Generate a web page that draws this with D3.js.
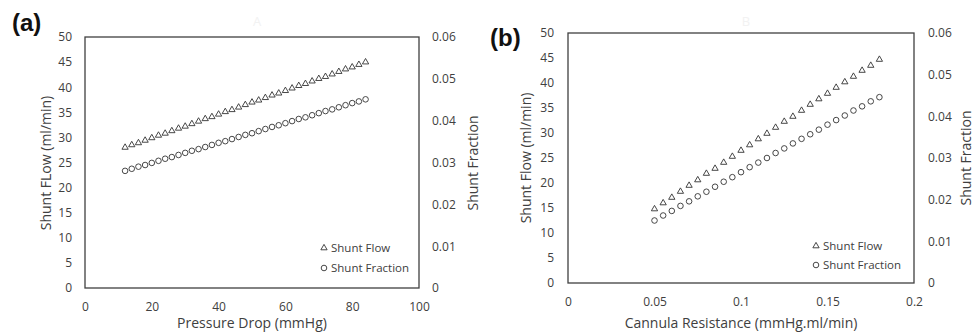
<!DOCTYPE html>
<html>
<head>
<meta charset="utf-8">
<script src="https://cdn.jsdelivr.net/npm/d3@7"></script>
<style>
  body { margin: 0; background: #fff; }
  svg { display: block; font-family: "Open Sans", sans-serif; }
  .tick text { fill: #404040; font-size: 12px; }
  .title { fill: #404040; font-size: 14px; }
  .legend { fill: #404040; font-size: 11.5px; }
  .panel-tag { font-family: "Liberation Sans", Arial, sans-serif; font-weight: bold; font-size: 24px; fill: #111; }
</style>
</head>
<body>
<svg id="chart" width="976" height="335"></svg>
<script>
var width = 976,
    height = 335;

// panel (a): pressure drop sweep
var pressureDrop = d3.range(12, 85, 2);
var flowA = [28.0, 28.5, 28.9, 29.4, 29.9, 30.4, 30.8, 31.3, 31.8, 32.2, 32.7, 33.2, 33.7,
  34.1, 34.6, 35.1, 35.5, 36.0, 36.5, 37.0, 37.4, 37.9, 38.4, 38.8, 39.3, 39.8, 40.3,
  40.7, 41.2, 41.7, 42.1, 42.6, 43.1, 43.6, 44.0, 44.5, 45.0];
var fractionA = [0.0280, 0.0285, 0.0290, 0.0294, 0.0299, 0.0304, 0.0309, 0.0313, 0.0318,
  0.0323, 0.0328, 0.0332, 0.0337, 0.0342, 0.0347, 0.0351, 0.0356, 0.0361, 0.0366, 0.0370,
  0.0375, 0.0380, 0.0385, 0.0389, 0.0394, 0.0399, 0.0404, 0.0408, 0.0413, 0.0418, 0.0423,
  0.0427, 0.0432, 0.0437, 0.0442, 0.0446, 0.0451];

// panel (b): cannula resistance sweep
var resistance = [0.05, 0.055, 0.06, 0.065, 0.07, 0.075, 0.08, 0.085, 0.09, 0.095, 0.1,
  0.105, 0.11, 0.115, 0.12, 0.125, 0.13, 0.135, 0.14, 0.145, 0.15, 0.155, 0.16, 0.165,
  0.17, 0.175, 0.18];
var flowB = [14.8, 16.0, 17.1, 18.3, 19.5, 20.6, 21.9, 22.9, 24.1, 25.3, 26.5, 27.6, 28.8,
  29.9, 31.1, 32.3, 33.3, 34.5, 35.7, 36.8, 37.9, 39.1, 40.2, 41.3, 42.5, 43.5, 44.7];
var fractionB = [0.0150, 0.0162, 0.0173, 0.0185, 0.0196, 0.0208, 0.0219, 0.0231, 0.0243,
  0.0254, 0.0266, 0.0278, 0.0289, 0.0300, 0.0312, 0.0323, 0.0335, 0.0346, 0.0357, 0.0368,
  0.0380, 0.0391, 0.0402, 0.0414, 0.0424, 0.0436, 0.0446];

var xTicksA = [0, 20, 40, 60, 80, 100];
var xTicksB = [0, 0.05, 0.1, 0.15, 0.2];
var flowTicks = d3.range(0, 51, 5);
var fractionTicks = [0, 0.01, 0.02, 0.03, 0.04, 0.05, 0.06];
var legendLabels = ["Shunt Flow", "Shunt Fraction"];

var svg = d3.select("#chart");

var triangle = d3.symbol().type(d3.symbolTriangle).size(17);

function drawPanel(p) {
  var x = d3.scaleLinear().domain(p.xDomain).range([p.left, p.right]);
  var yL = d3.scaleLinear().domain([0, 50]).range([p.bottom, p.top]);
  var yR = d3.scaleLinear().domain([0, 0.06]).range([p.bottom, p.top]);

  var g = svg.append("g");

  g.append("text").attr("class", "panel-tag")
    .attr("x", p.tagX).attr("y", p.tagY).text(p.tag);

  // faint watermark letter above the plot
  g.append("text").attr("x", p.markX).attr("y", p.markY)
    .attr("text-anchor", "middle").style("font-size", "13px").style("fill", "#f2f2f2")
    .text(p.mark);

  g.append("rect")
    .attr("x", p.left).attr("y", p.top)
    .attr("width", p.right - p.left).attr("height", p.bottom - p.top)
    .attr("fill", "none").attr("stroke", "#404040").attr("stroke-width", 1.3);

  var xAxis = g.append("g")
    .attr("transform", "translate(0," + p.bottom + ")")
    .call(d3.axisBottom(x).tickValues(p.xTicks).tickSize(0).tickPadding(p.xPad).tickFormat(d3.format("")));

  var leftAxis = g.append("g")
    .attr("transform", "translate(" + p.left + ",0)")
    .call(d3.axisLeft(yL).tickValues(flowTicks).tickSize(0).tickPadding(p.lPad));

  var rightAxis = g.append("g")
    .attr("transform", "translate(" + p.right + ",0)")
    .call(d3.axisRight(yR).tickValues(fractionTicks).tickSize(0).tickPadding(p.rPad).tickFormat(d3.format("")));

  [xAxis, leftAxis, rightAxis].forEach(function(a) {
    a.select(".domain").remove();
    a.attr("font-family", null).attr("font-size", null);
  });

  g.append("text").attr("class", "title")
    .attr("x", (p.left + p.right) / 2 + p.xTitleDx).attr("y", p.xTitleY)
    .attr("text-anchor", "middle").text(p.xTitle);

  g.append("text").attr("class", "title")
    .attr("transform", "translate(" + p.lTitleX + "," + p.titleMidY + ")rotate(-90)")
    .attr("text-anchor", "middle").attr("dy", "0.35em").text(p.lTitle);

  g.append("text").attr("class", "title")
    .attr("transform", "translate(" + p.rTitleX + "," + p.titleMidY + ")rotate(-90)")
    .attr("text-anchor", "middle").attr("dy", "0.35em").text("Shunt Fraction");

  g.append("g").selectAll("path")
    .data(p.xs)
    .join("path")
    .attr("d", triangle)
    .attr("transform", function(d, i) { return "translate(" + x(d) + "," + yL(p.flow[i]) + ")"; })
    .attr("fill", "none").attr("stroke", "#333").attr("stroke-width", 0.9);

  g.append("g").selectAll("circle")
    .data(p.xs)
    .join("circle")
    .attr("cx", function(d) { return x(d); })
    .attr("cy", function(d, i) { return yR(p.fraction[i]); })
    .attr("r", 2.8)
    .attr("fill", "none").attr("stroke", "#333").attr("stroke-width", 0.9);

  // legend
  var lg = g.append("g").attr("transform", "translate(" + p.legX + "," + p.legY + ")");
  lg.append("path").attr("d", triangle)
    .attr("fill", "none").attr("stroke", "#333").attr("stroke-width", 0.9);
  lg.append("circle").attr("cx", 0).attr("cy", p.legGap).attr("r", 2.8)
    .attr("fill", "none").attr("stroke", "#333").attr("stroke-width", 0.9);
  lg.selectAll("text.legend")
    .data(legendLabels)
    .join("text").attr("class", "legend")
    .attr("x", 7).attr("y", function(d, i) { return i * p.legGap; })
    .attr("dy", "0.35em").text(function(d) { return d; });
}

drawPanel({
  tag: "(a)", tagX: 12, tagY: 31, mark: "A", markX: 257, markY: 26,
  left: 85, right: 419, top: 37, bottom: 288,
  xDomain: [0, 100], xTicks: xTicksA, xPad: 14, lPad: 13, rPad: 13,
  xTitle: "Pressure Drop (mmHg)", xTitleDx: 0, xTitleY: 328,
  lTitle: "Shunt FLow (ml/min)", lTitleX: 46, rTitleX: 473, titleMidY: 163,
  xs: pressureDrop, flow: flowA, fraction: fractionA,
  legX: 324, legY: 248, legGap: 20
});

drawPanel({
  tag: "(b)", tagX: 490, tagY: 46, mark: "B", markX: 746, markY: 26,
  left: 568, right: 914, top: 33, bottom: 283,
  xDomain: [0, 0.2], xTicks: xTicksB, xPad: 14, lPad: 14, rPad: 14,
  xTitle: "Cannula Resistance (mmHg.ml/min)", xTitleDx: 0, xTitleY: 328,
  lTitle: "Shunt Flow (ml/min)", lTitleX: 526, rTitleX: 966, titleMidY: 158,
  xs: resistance, flow: flowB, fraction: fractionB,
  legX: 816, legY: 246, legGap: 19
});
</script>
</body>
</html>
